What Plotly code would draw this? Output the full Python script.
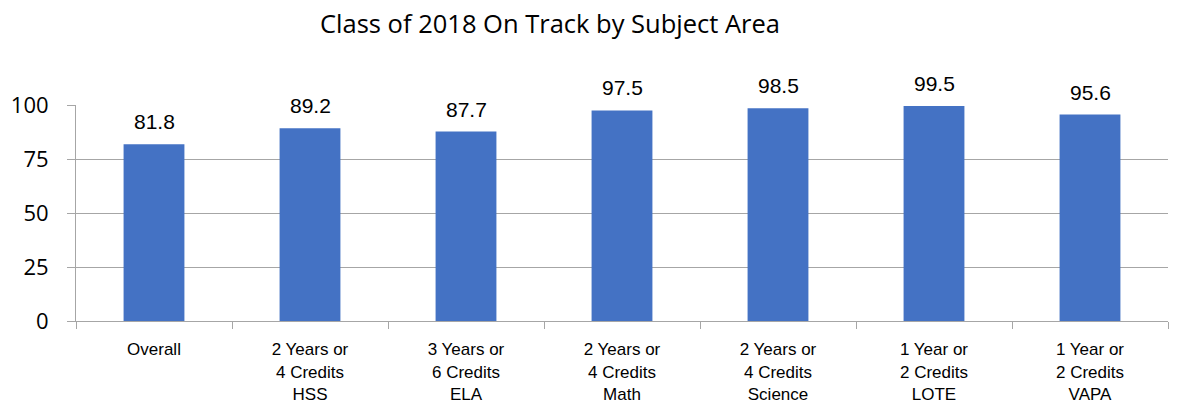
import plotly.graph_objects as go

categories = ["Overall", "2 Years or<br>4 Credits<br>HSS", "3 Years or<br>6 Credits<br>ELA",
              "2 Years or<br>4 Credits<br>Math", "2 Years or<br>4 Credits<br>Science",
              "1 Year or<br>2 Credits<br>LOTE", "1 Year or<br>2 Credits<br>VAPA"]
values = [81.8, 89.2, 87.7, 97.5, 98.5, 99.5, 95.6]
y_ticks = [0, 25, 50, 75, 100]

narrow = "Liberation Sans Narrow, Arial Narrow, Liberation Sans, Arial"
grid = "#a6a6a6"

# page has an 8px body margin; figure sized so the visible area matches the window
W, H = 1174, 401

fig = go.Figure(go.Bar(
    x=categories, y=values, marker_color="#4472C4",
    marker_line_width=0, width=0.39,
    cliponaxis=False,
))

for c, v in zip(categories, values):
    fig.add_annotation(x=c, y=v, text=f"{v:.1f}", showarrow=False,
                       yanchor="bottom", yshift=9,
                       font=dict(family=narrow, size=21, color="#000000"))

fig.update_layout(
    width=W, height=H,
    margin=dict(l=68, r=14, t=97, b=88, autoexpand=False),
    paper_bgcolor="white", plot_bgcolor="white",
    title=dict(text="Class of 2018 On Track by Subject Area", x=542 / W, xanchor="center",
               xref="container", y=1 - 16 / H, yanchor="middle", yref="container",
               font=dict(family="Open Sans, Lato, sans-serif", size=25.5, color="#000000")),
    showlegend=False,
)
fig.update_xaxes(
    type="category", showline=True, linecolor=grid, linewidth=1,
    ticks="outside", tickson="boundaries", ticklen=7, tickcolor=grid,
    tickfont=dict(family=narrow, size=17, color="#000000"),
    ticklabelstandoff=13, automargin=False,
    showgrid=False,
)
fig.update_yaxes(
    range=[0, 100], tickvals=y_ticks, showgrid=True, gridcolor=grid, gridwidth=1,
    showline=True, linecolor=grid, ticks="outside", ticklen=8, tickcolor=grid,
    tickfont=dict(family="Open Sans, Lato, sans-serif", size=22, color="#000000"),
    ticklabelstandoff=14, automargin=False,
    zeroline=False,
)

fig.write_html("out.html")
